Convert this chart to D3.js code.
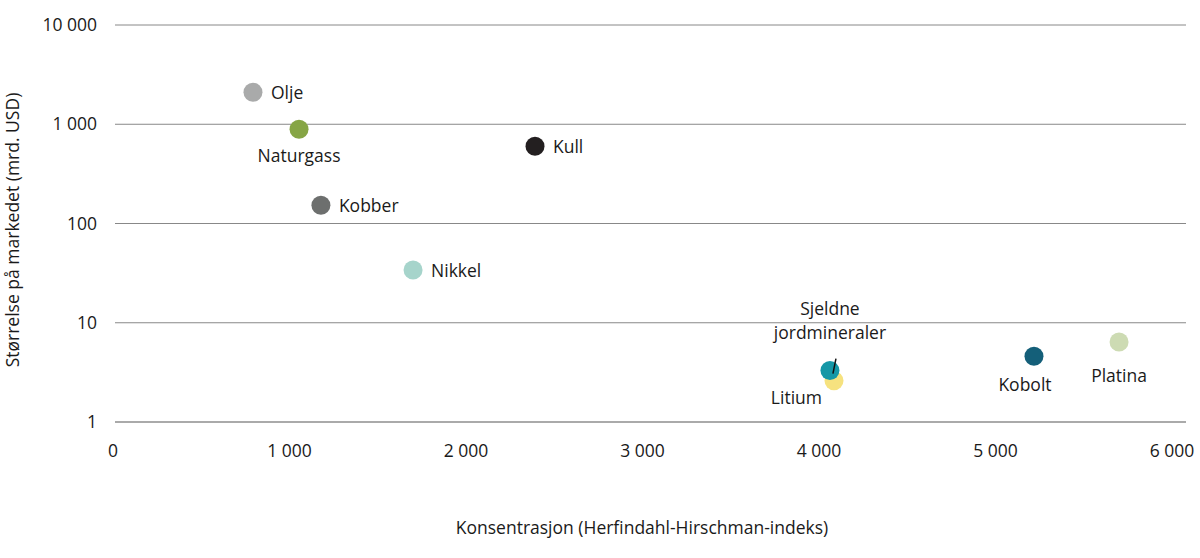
<!DOCTYPE html>
<html><head><meta charset="utf-8">
<script src="https://cdn.jsdelivr.net/npm/d3@7"></script>
<style>body{margin:0;background:#fff}text{font-family:"Open Sans",Lato,sans-serif;fill:#1a1a1a}</style>
</head><body><svg id="chart"></svg>
<script>
// data
let names = ['Olje','Naturgass','Kull','Kobber','Nikkel','Sjeldne jordmineraler','Litium','Kobolt','Platina'];
let hhi = [793, 1054, 2391, 1178, 1700, 4062, 4085, 5218, 5700];
let size = [2100, 890, 600, 153, 34, 3.3, 2.6, 4.6, 6.4];
let colors = ['#a9aaaa','#86a545','#231f20','#6d6f6e','#a6d4cb','#1597a6','#f6e27f','#145f79','#cddbb3'];
let xTicks = [0,1000,2000,3000,4000,5000,6000];
let yTicks = [1,10,100,1000,10000];
// label offsets [dx, dy, anchor]
let lab = [[18,7,'start'],[0,33,'middle'],[18,7,'start'],[18,7,'start'],[18,7,'start'],[0,0,'middle'],[-12,23,'end'],[-9,35,'middle'],[0,40,'middle']];

let fmt = d => d3.format(',')(d).replace(/,/g,' ');
let fs = 17.5;
let svg = d3.select('#chart').attr('width',1200).attr('height',558);
let x = d3.scaleLinear().domain([0,6000]).range([113,1172]);
let y = d3.scaleLog().domain([1,10000]).range([422,25]);

svg.append('g').selectAll('line').data(yTicks).join('line')
  .attr('x1',115).attr('x2',1186).attr('y1',d=>y(d)).attr('y2',d=>y(d))
  .attr('stroke',(d)=>d==1?'#aaa':'#888').attr('stroke-width',d=>d==1?2:1);
svg.append('g').selectAll('text').data(yTicks).join('text')
  .attr('x',97).attr('y',d=>y(d)+6).attr('text-anchor','end').attr('font-size',fs).text(fmt);
svg.append('g').selectAll('text').data(xTicks).join('text')
  .attr('x',d=>x(d)).attr('y',457).attr('text-anchor','middle').attr('font-size',fs).text(fmt);

svg.append('text').attr('x',642).attr('y',534).attr('text-anchor','middle').attr('font-size',fs)
  .text('Konsentrasjon (Herfindahl-Hirschman-indeks)');
svg.append('text').attr('transform','translate(19,230) rotate(-90)').attr('text-anchor','middle').attr('font-size',fs)
  .text('Størrelse på markedet (mrd. USD)');

let order = [0,1,2,3,4,6,5,7,8];
svg.append('g').selectAll('circle').data(order).join('circle')
  .attr('cx',i=>x(hhi[i])).attr('cy',i=>y(size[i])).attr('r',9.5).attr('fill',i=>colors[i]);
// leader line for Sjeldne jordmineraler
svg.append('line').attr('x1',x(hhi[5])+3).attr('y1',y(size[5])+3).attr('x2',x(hhi[5])+6).attr('y2',y(size[5])-12)
  .attr('stroke','#111').attr('stroke-width',1.5);

svg.append('g').selectAll('text').data(d3.range(names.length)).join('text')
  .attr('x',i=>x(hhi[i])+lab[i][0]).attr('y',i=>y(size[i])+lab[i][1]).attr('text-anchor',i=>lab[i][2]).attr('font-size',fs)
  .each(function(i){
    let t = d3.select(this);
    if (i==5) {
      t.append('tspan').attr('x',x(hhi[i])).attr('y',315).text('Sjeldne');
      t.append('tspan').attr('x',x(hhi[i])).attr('y',339).text('jordmineraler');
    } else t.text(names[i]);
  });
</script></body></html>
